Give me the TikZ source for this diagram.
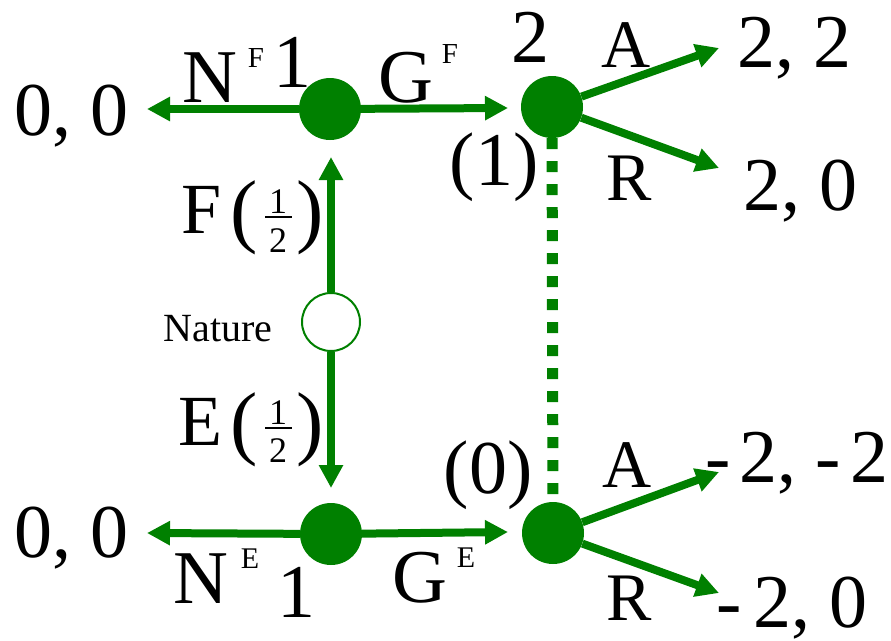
\documentclass[tikz,border=0pt]{standalone}
\usepackage{fontspec}
\setmainfont{Liberation Serif}
\usetikzlibrary{arrows.meta}
\definecolor{gt}{RGB}{0,128,0}
\begin{document}
\begin{tikzpicture}[x=1pt,y=-1pt,
  dec/.style={circle,fill=gt,minimum size=62pt,inner sep=0pt},
  chance/.style={circle,draw=gt,line width=2pt,fill=white,minimum size=58pt,inner sep=0pt},
  mv/.style={draw=gt,line width=8pt,-{Triangle[length=23pt,width=23pt]}},
  info/.style={draw=gt,line width=11pt,dash pattern=on 11pt off 12pt},
  big/.style={font=\fontsize{76}{76}\selectfont,anchor=base,inner sep=0pt},
  act/.style={font=\fontsize{68}{68}\selectfont,anchor=base,inner sep=0pt},
  sup/.style={font=\fontsize{29}{29}\selectfont,anchor=base,inner sep=0pt},
  paren/.style={font=\fontsize{82}{82}\selectfont,anchor=base,inner sep=0pt},
  frc/.style={font=\fontsize{36}{36}\selectfont,anchor=base,inner sep=0pt},
  natlbl/.style={font=\fontsize{40}{40}\selectfont,anchor=base,inner sep=0pt},
  fbar/.style={draw=black,line width=2pt}]
\useasboundingbox (0,0) rectangle (891,640);

% nodes
\node[dec] (p1F) at (330,109) {};
\node[dec] (p2F) at (552,107) {};
\node[chance] (nat) at (331,322) {};
\node[dec] (p1E) at (331,534) {};
\node[dec] (p2E) at (553,533) {};

% free ends
\coordinate (tNF) at (147,109);
\coordinate (tNE) at (147,533);
\coordinate (tF) at (331,157);
\coordinate (tE) at (331,488);
\coordinate (tGF) at (508,108);
\coordinate (tGE) at (508,532);
\coordinate (tAF) at (719,48);
\coordinate (tRF) at (719,168);
\coordinate (tAE) at (719,472);
\coordinate (tRE) at (719,593);

% connectors
\draw[info] (p2F) -- (p2E);
\draw[mv] (p1F) -- (tNF);
\draw[mv] (p1F) -- (tGF);
\draw[mv] (p1E) -- (tNE);
\draw[mv] (p1E) -- (tGE);
\draw[mv] (nat) -- (tF);
\draw[mv] (nat) -- (tE);
\draw[mv] (p2F) -- (tAF);
\draw[mv] (p2F) -- (tRF);
\draw[mv] (p2E) -- (tAE);
\draw[mv] (p2E) -- (tRE);

% top labels
\node[big] (payNF) at (71,135) {0, 0};
\node[big] (lNF) at (210,102) {N};
\node[sup] (lNFs) at (256,67) {F};
\node[big] (pl1F) at (292,87) {1};
\node[big] (lGF) at (406,102) {G};
\node[sup] (lGFs) at (450,63) {F};
\node[big] (pl2) at (530,62) {2};
\node[act] (lAF) at (626,67) {A};
\node[big] (payAF) at (794,67) {2, 2};
\node[act] (lRF) at (629,200) {R};
\node[big] (payRF) at (800,210) {2, 0};
\node[big] (blf1) at (494,185) {(1)};

% nature labels
\node[big,font=\fontsize{72}{72}\selectfont] (lF) at (202,233) {F};
\node[paren] (lFo) at (244,237) {(};
\node[frc] (lFn) at (278,213) {1};
\node[frc] (lFd) at (278,252) {2};
\draw[fbar] (265,217) -- (292,217);
\node[paren] (lFc) at (310,237) {)};

\node[natlbl] (lnat) at (218,341) {Nature};

\node[big,font=\fontsize{72}{72}\selectfont] (lE) at (200,445) {E};
\node[paren] (lEo) at (244,449) {(};
\node[frc] (lEn) at (278,424) {1};
\node[frc] (lEd) at (278,462) {2};
\draw[fbar] (265,428) -- (292,428);
\node[paren] (lEc) at (310,449) {)};

% bottom labels
\node[big] (payNE) at (71,557) {0, 0};
\node[big] (lNE) at (201,603) {N};
\node[sup,font=\fontsize{30}{30}\selectfont] (lNEs) at (250,568) {E};
\node[big] (pl1E) at (296,617) {1};
\node[big] (lGE) at (420,602) {G};
\node[sup,font=\fontsize{30}{30}\selectfont] (lGEs) at (466,567) {E};
\node[big] (blf0) at (488,493) {(0)};
\node[act] (lAE) at (627,487) {A};
\node[big] (payAE) at (797,482) {-\hspace{0.12em}2, -\hspace{0.12em}2};
\node[act] (lRE) at (629,620) {R};
\node[big,text depth=0pt] (payRE) at (792,627) {-\hspace{0.15em}2, 0};
\end{tikzpicture}
\end{document}
